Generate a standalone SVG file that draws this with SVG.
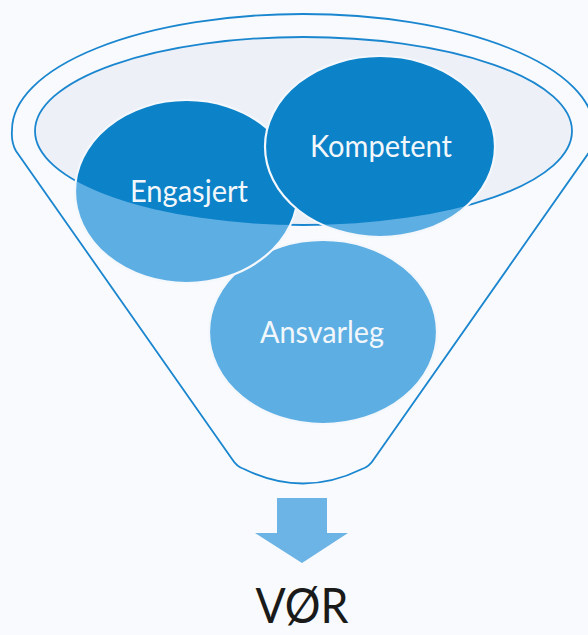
<svg xmlns="http://www.w3.org/2000/svg" width="588" height="635" viewBox="0 0 588 635">
  <style>
    .rim { fill: none; stroke: #1A86CF; stroke-width: 1.8; }
    .light { fill: #5DAEE3; }
    .dark { fill: #0C82C8; }
    .edge { fill: none; stroke: #F4F8FC; stroke-width: 2.2; }
    .lbl { font-family: Lato, "Open Sans", "Liberation Sans", sans-serif; font-size: 30px; fill: #F2F7FB; text-anchor: middle; }
    .out { font-family: Lato, "Open Sans", "Liberation Sans", sans-serif; font-size: 48px; fill: #1A1A1A; text-anchor: middle; }
  </style>
  <defs>
    <clipPath id="bowl">
      <ellipse cx="303.5" cy="131" rx="268.5" ry="94"/>
    </clipPath>
  </defs>
  <rect x="0" y="0" width="588" height="635" fill="#F8FAFD"/>

  <g id="funnel">
    <path class="rim" d="M 16,151 Q 11,142 12,130 A 291 116 0 0 1 594,130 Q 595,142 590,151 L 374,459 Q 369,467 362,469 Q 303,498 244,469 Q 237,467 232,459 Z"/>
    <ellipse cx="303.5" cy="131" rx="268.5" ry="94" fill="#EDF0F7" stroke="#1A86CF" stroke-width="1.8"/>
  </g>

  <g id="ansvarleg">
    <ellipse class="light" cx="323" cy="332" rx="114" ry="92"/>
    <ellipse class="dark" cx="323" cy="332" rx="114" ry="92" clip-path="url(#bowl)"/>
    <ellipse class="edge" cx="323" cy="332" rx="114" ry="92"/>
  </g>

  <g id="engasjert">
    <ellipse class="light" cx="186.5" cy="191.5" rx="111.5" ry="91.5"/>
    <ellipse class="dark" cx="186.5" cy="191.5" rx="111.5" ry="91.5" clip-path="url(#bowl)"/>
    <ellipse class="edge" cx="186.5" cy="191.5" rx="111.5" ry="91.5"/>
  </g>

  <g id="kompetent">
    <ellipse class="light" cx="380" cy="146.5" rx="115" ry="90.5"/>
    <ellipse class="dark" cx="380" cy="146.5" rx="115" ry="90.5" clip-path="url(#bowl)"/>
    <ellipse class="edge" cx="380" cy="146.5" rx="115" ry="90.5"/>
  </g>

  <g id="labels">
    <text class="lbl" x="381" y="157" textLength="142" lengthAdjust="spacingAndGlyphs">Kompetent</text>
    <text class="lbl" x="189" y="202" textLength="118" lengthAdjust="spacingAndGlyphs">Engasjert</text>
    <text class="lbl" x="322" y="343" textLength="124" lengthAdjust="spacingAndGlyphs">Ansvarleg</text>
  </g>

  <g id="connectors">
    <path d="M 277,498 L 327,498 L 327,533 L 348,533 L 302,563 L 255,533 L 277,533 Z" fill="#6CB3E6"/>
  </g>

  <g id="result">
    <text class="out" x="302" y="623" textLength="93" lengthAdjust="spacingAndGlyphs">VØR</text>
  </g>
</svg>
